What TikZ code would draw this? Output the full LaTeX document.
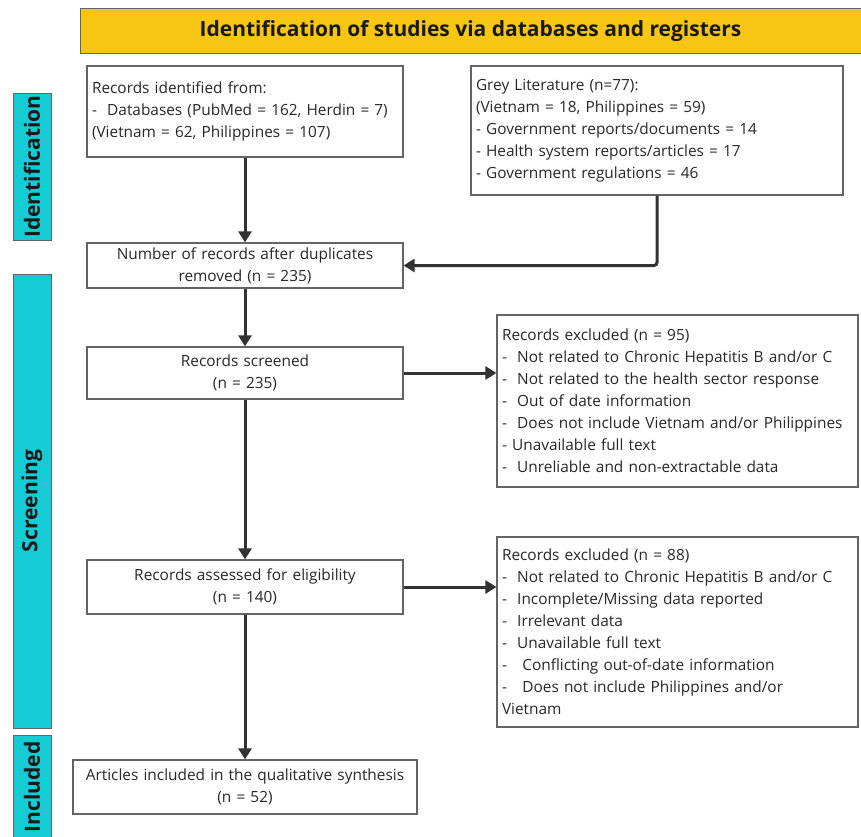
\documentclass[tikz,border=0pt]{standalone}
\usepackage{fontspec}
\setmainfont{Open Sans}
\usetikzlibrary{arrows.meta}
\definecolor{ttlyellow}{RGB}{247,198,18}
\definecolor{barcyan}{RGB}{22,204,212}
\definecolor{arrowgray}{RGB}{50,50,50}
\definecolor{edgegray}{RGB}{100,100,100}
\definecolor{txtgray}{RGB}{40,40,40}
\begin{document}
\begin{tikzpicture}[x=1pt,y=-1pt,
  boxl/.style={draw=edgegray, line width=1.2pt, fill=white, inner xsep=5pt, inner ysep=0pt,
     align=left, font=\fontsize{15.4}{22}\selectfont, text=txtgray, anchor=center},
  boxc/.style={draw=edgegray, line width=1.2pt, fill=white, inner xsep=4pt, inner ysep=0pt,
     align=center, font=\fontsize{15.4}{22}\selectfont, text=txtgray, anchor=center},
  bar/.style={draw=edgegray, line width=0.8pt, fill=barcyan, minimum width=38pt, inner sep=0pt},
  barlbl/.style={rotate=90, font=\fontsize{21}{24}\selectfont\bfseries, text=black!90},
  flow/.style={draw=arrowgray, line width=3pt, -{Triangle[length=11pt,width=13pt]}}
]
\useasboundingbox (0,0) rectangle (861,836);
% title
\node[draw=edgegray, line width=1pt, fill=ttlyellow, minimum width=781pt, minimum height=45pt, inner sep=0pt,
  font=\fontsize{21}{24}\selectfont\bfseries, text=black!90] (title) at (470.5,30.5) {Identification of studies via databases and registers};
% side bars
\node[bar, minimum height=147pt] (barid) at (32,166.5) {};
\node[barlbl] (lblid) at (barid.center) {Identification};
\node[bar, minimum height=454pt] (barsc) at (32,501) {};
\node[barlbl] (lblsc) at (barsc.center) {Screening};
\node[bar, minimum height=110pt] (barin) at (32,790) {};
\node[barlbl] (lblin) at (32,787) {Included};
% boxes
\node[boxl, text width=306pt, minimum height=91pt] (ident) at (245,111.5)
  {Records identified from:\\-\ \ Databases (PubMed = 162, Herdin = 7)\\(Vietnam = 62, Philippines = 107)};
\node[boxl, text width=362pt, minimum height=129pt] (grey) at (657,130.5)
  {Grey Literature (n=77):\\(Vietnam = 18, Philippines = 59)\\- Government reports/documents = 14\\- Health system reports/articles = 17\\- Government regulations = 46};
\node[boxc, text width=308pt, minimum height=45pt] (dup) at (245,265.5)
  {Number of records after duplicates\\removed (n = 235)};
\node[boxc, text width=308pt, minimum height=52pt] (scr) at (245,373)
  {Records screened\\(n = 235)};
\node[boxl, text width=351pt, minimum height=172pt] (exa) at (677.5,401)
  {Records excluded (n = 95)\\-\ \ Not related to Chronic Hepatitis B and/or C\\-\ \ Not related to the health sector response\\-\ \ Out of date information\\-\ \ Does not include Vietnam and/or Philippines\\- Unavailable full text\\-\ \ Unreliable and non-extractable data};
\node[boxc, text width=308pt, minimum height=54pt] (ass) at (245,587)
  {Records assessed for eligibility\\(n = 140)};
\node[boxl, text width=351pt, minimum height=190pt] (exb) at (677.5,632)
  {Records excluded (n = 88)\\-\ \ Not related to Chronic Hepatitis B and/or C\\-\ \ Incomplete/Missing data reported\\-\ \ Irrelevant data\\-\ \ Unavailable full text\\-\ \ \ Conflicting out-of-date information\\-\ \ \ Does not include Philippines and/or\\Vietnam\\[-10pt]};
\node[boxc, text width=336pt, minimum height=54pt] (art) at (245,787)
  {Articles included in the qualitative synthesis\\(n = 52)};
% connectors
\coordinate (gturn) at (657,265.5);
\draw[flow] (ident.south) -- (dup.north);
\draw[flow, rounded corners=3pt] (grey.south) -- (gturn) -- (dup.east);
\draw[flow] (dup.south) -- (scr.north);
\draw[flow] (scr.east) -- (scr.east -| exa.west);
\draw[flow] (scr.south) -- (ass.north);
\draw[flow] (ass.east) -- (ass.east -| exb.west);
\draw[flow] (ass.south) -- (art.north);
\end{tikzpicture}
\end{document}
